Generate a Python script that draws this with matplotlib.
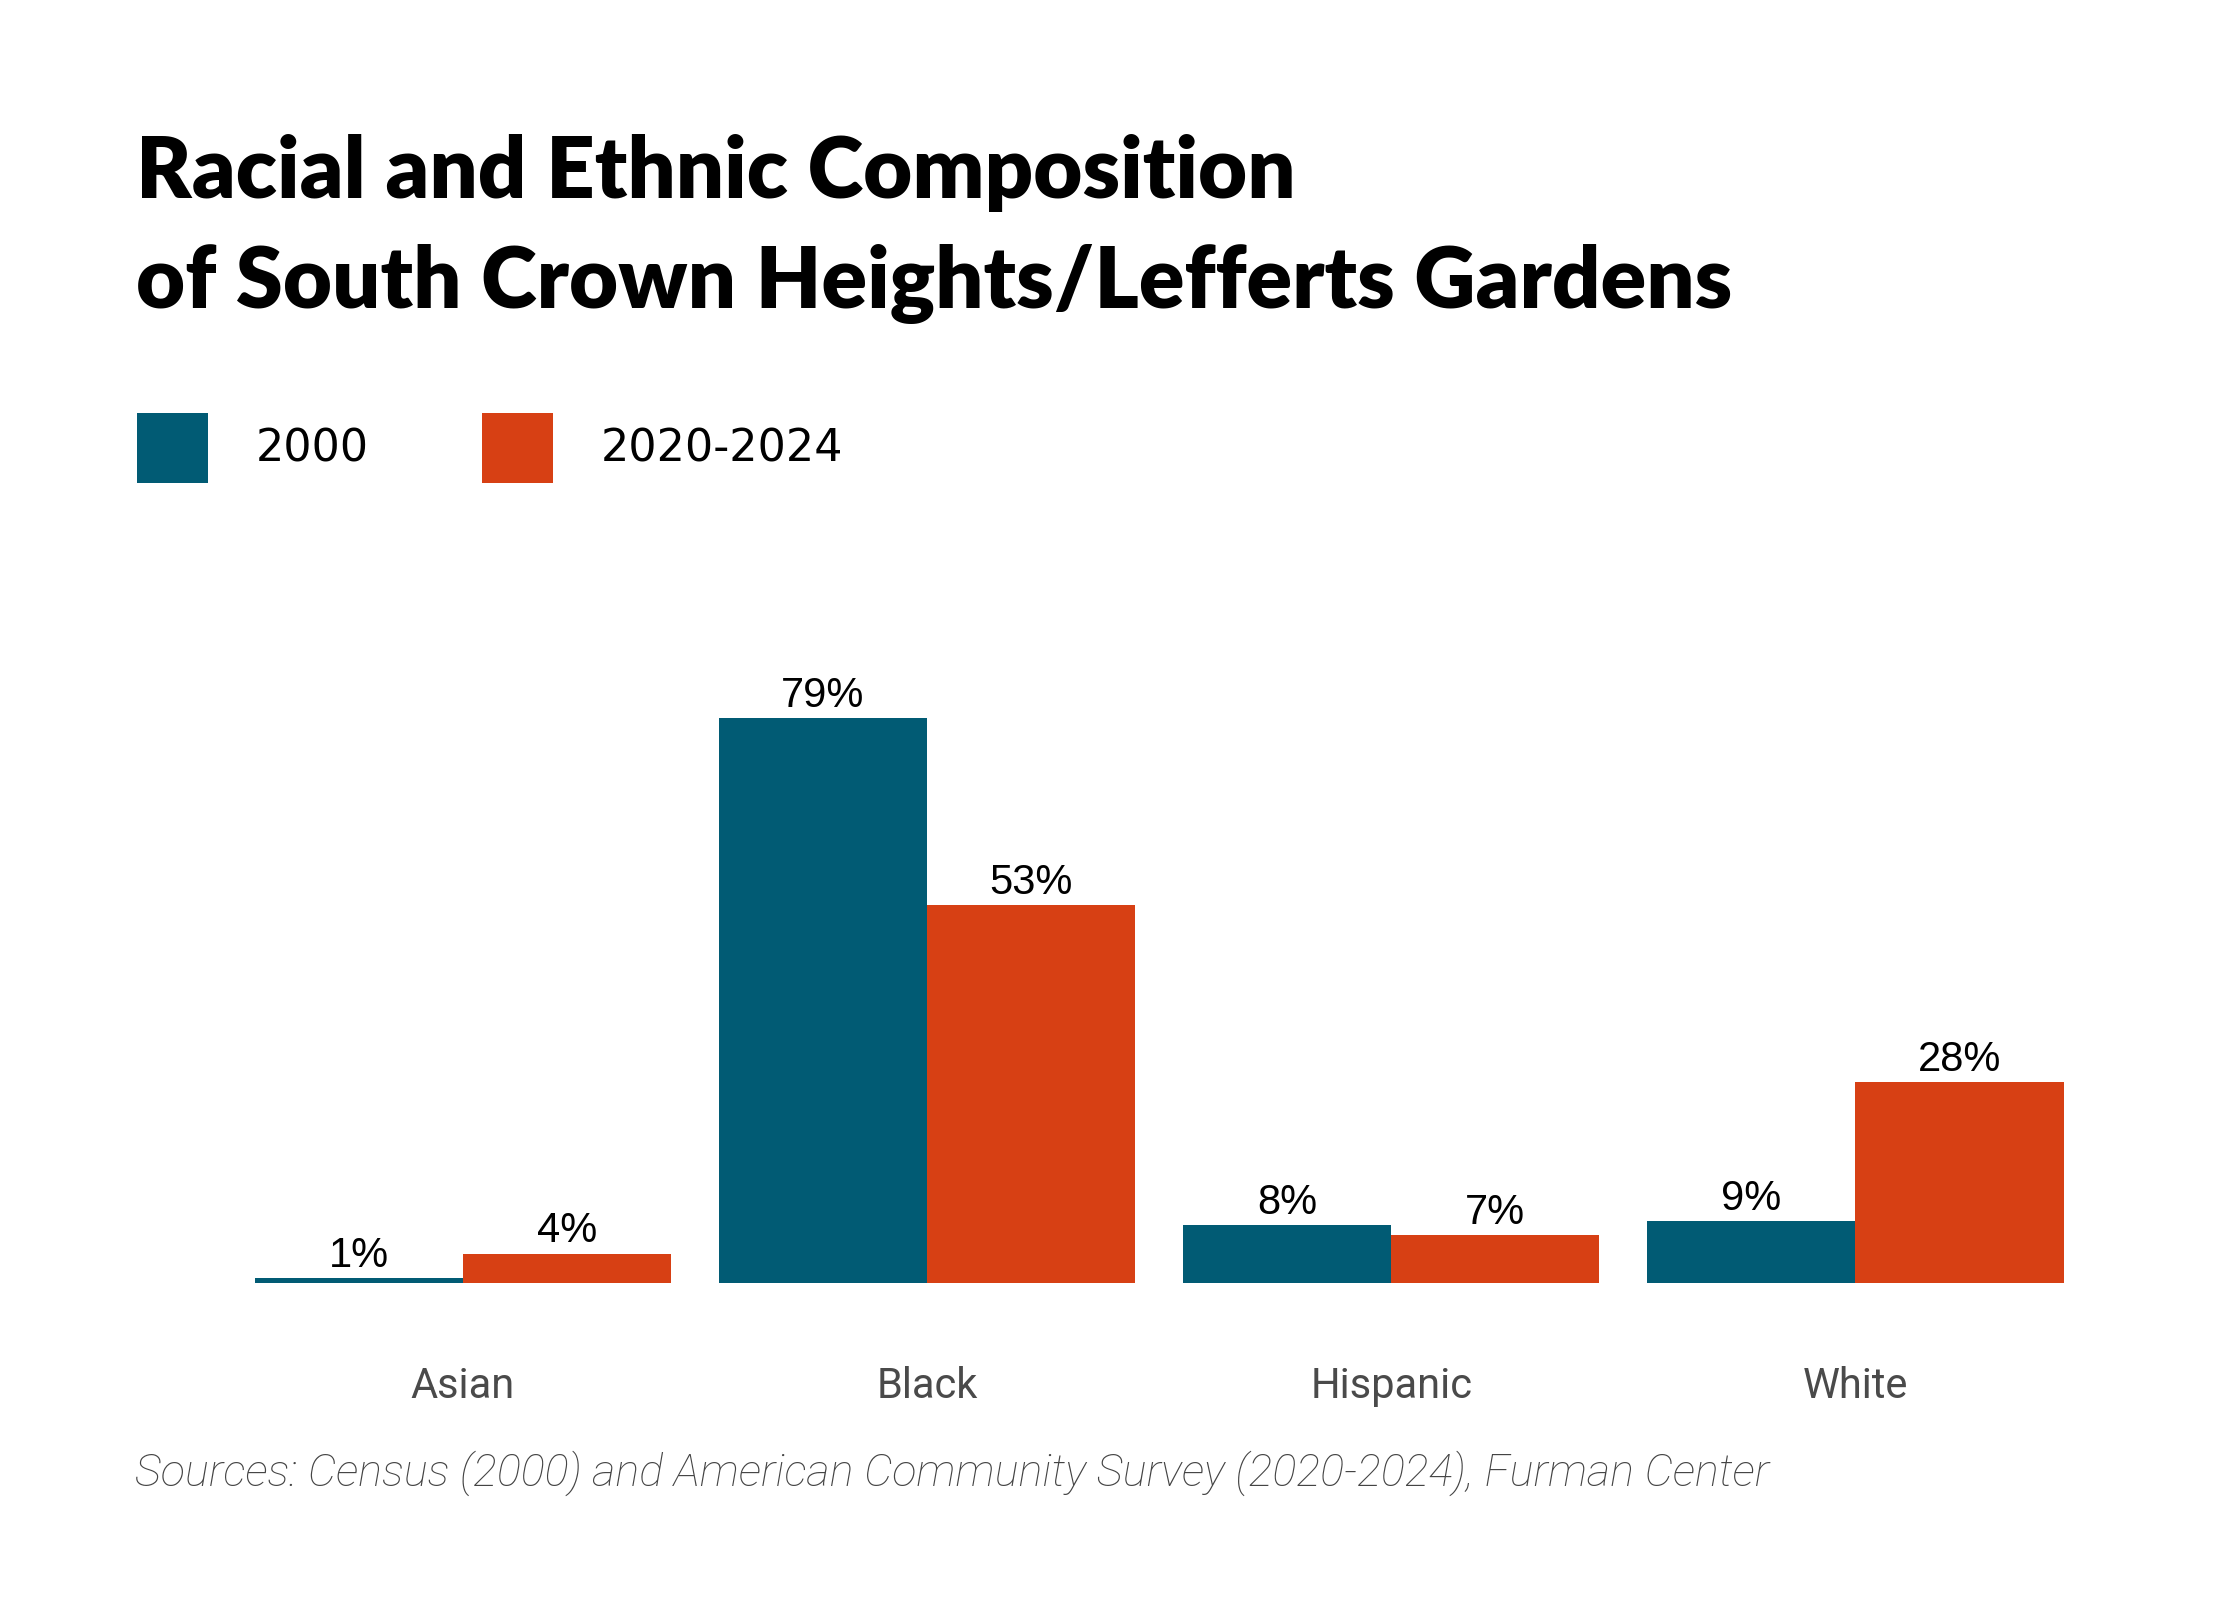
import matplotlib
matplotlib.use("Agg")
import matplotlib.pyplot as plt
from matplotlib.patches import Rectangle
import numpy as np

categories = ["Asian", "Black", "Hispanic", "White"]
series_names = ["2000", "2020-2024"]
values_2000 = [0.7, 78.9, 8.1, 8.6]
values_2024 = [4.1, 52.8, 6.7, 28.0]
colors = ["#015b74", "#d74014"]

title_lines = ["Racial and Ethnic Composition", "of South Crown Heights/Lefferts Gardens"]
source = "Sources: Census (2000) and American Community Survey (2020-2024), Furman Center"

W, H = 1548, 1100  # reference layout units
fig = plt.figure(figsize=(11.2, 8), dpi=200)
fig.patch.set_facecolor("white")

def fx(x):
    return x / W

def fy(y):
    return 1 - y / H

# Title
for i, line in enumerate(title_lines):
    fig.text(fx(94), fy(136 + 76 * i), line, fontsize=30.5, fontweight="heavy",
             family=["Lato", "DejaVu Sans"], color="black", va="baseline", ha="left")

# Legend
leg_x = [95, 333]
for i, name in enumerate(series_names):
    fig.add_artist(Rectangle((fx(leg_x[i]), fy(332)), fx(49), 48 / H,
                             transform=fig.transFigure, facecolor=colors[i],
                             edgecolor="none"))
    fig.text(fx(leg_x[i] + 82), fy(309), name, fontsize=16,
             family=["DejaVu Sans"], color="black", va="center", ha="left")

# Axes
ax = fig.add_axes([fx(144), fy(882), fx(1458 - 144), (882 - 400) / H])
x = np.arange(len(categories))
bw = 144 / 321
b1 = ax.bar(x - bw / 2, values_2000, bw, color=colors[0], linewidth=0)
b2 = ax.bar(x + bw / 2, values_2024, bw, color=colors[1], linewidth=0)
for bars in (b1, b2):
    for rect in bars:
        v = rect.get_height()
        ax.annotate(f"{v:.0f}%", (rect.get_x() + rect.get_width() / 2, v),
                    xytext=(0, 0.8), textcoords="offset points",
                    ha="center", va="bottom", fontsize=15,
                    family=["Liberation Sans", "DejaVu Sans"], color="black")

ax.set_xlim(-0.548, 3.548)
ax.set_ylim(0, 97.9)
ax.set_xticks(x)
ax.set_xticklabels(categories, fontsize=15, color="#4a4a4a",
                   family=["Roboto", "DejaVu Sans"])
ax.tick_params(axis="x", length=0, pad=30)
ax.set_yticks([])
for s in ax.spines.values():
    s.set_visible(False)

# Source
fig.text(fx(93), fy(1013), source, fontsize=16.2, style="italic",
         family=["Roboto", "DejaVu Sans"], fontweight="light",
         color="#444444", va="center", ha="left")

fig.savefig("out.png", dpi=200, facecolor="white")
